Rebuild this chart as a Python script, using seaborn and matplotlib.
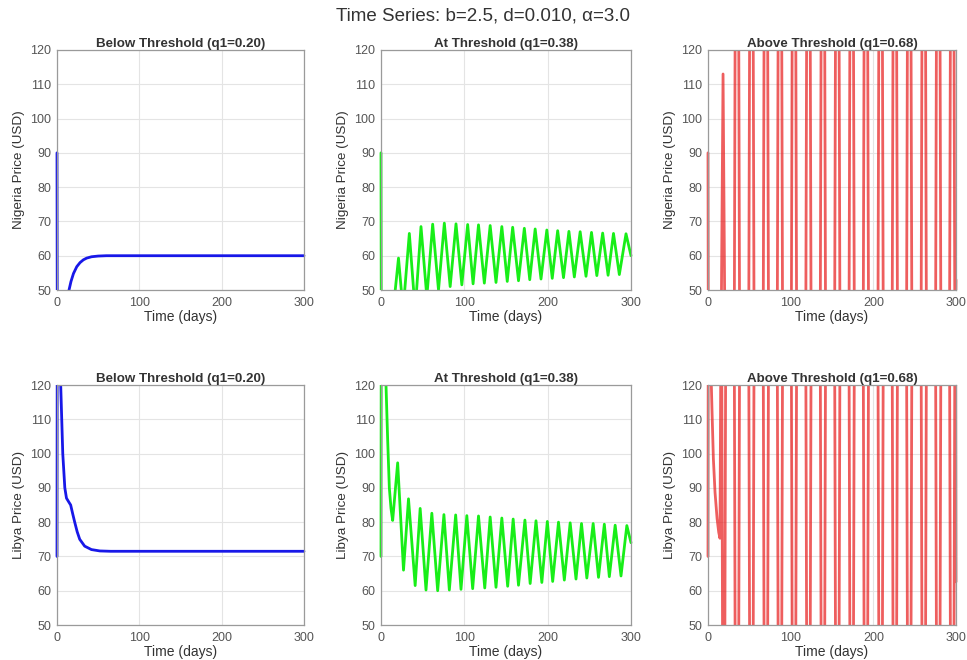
import matplotlib
matplotlib.use("Agg")
import matplotlib.pyplot as plt
from matplotlib.transforms import Bbox, TransformedBbox
import seaborn as sns
import pandas as pd

# ---------------- data ----------------
# Below threshold (q1=0.20)
ng_low_t = [0, 0.4, 13.5, 14.6, 17, 20, 24, 28, 32, 36, 42, 50, 60, 300]
ng_low_v = [90, 30, 45, 50, 52.5, 54.8, 56.8, 58, 58.8, 59.3, 59.7, 59.9, 60, 60]

ly_low_t = [0, 0.3, 4, 4.5, 7, 9.5, 11.5, 14, 16.6, 19, 21.5, 24.5, 27.6, 33.6, 41.8, 52, 65, 300]
ly_low_v = [70, 140, 126, 120, 100, 90, 87, 86, 85, 82.5, 80, 77.2, 75, 73, 72, 71.6, 71.5, 71.5]

# At threshold (q1=0.38)
ng_mid_t = [0, 0.4, 15, 21, 26.5, 34, 41, 48, 55, 62, 69, 76, 83, 90, 97, 104, 110.5, 117,
            124, 131, 138, 145, 151.5, 158, 165, 172, 178.5, 185, 192, 199, 205.5, 212,
            219, 225.5, 232, 239, 246, 252.6, 259, 266, 272.5, 279, 286, 294, 300]
ng_mid_v = [90, 30, 45, 59.3, 44, 66.5, 44, 68.5, 48, 69.2, 50, 69.5, 51, 69.3, 51.5, 69.1, 51.8, 69,
            52, 68.8, 52.2, 68.5, 52.5, 68.3, 52.7, 68, 53, 67.8, 53.2, 67.5, 53.4, 67.3,
            53.6, 67.1, 53.8, 67, 54, 66.8, 54.2, 66.6, 54.3, 66.5, 54.5, 66.4, 60]

ly_mid_t = [0, 0.3, 5, 6, 8, 10, 12, 14, 20, 27, 33, 41, 47, 54, 61, 68, 75.5, 82, 89.6, 96,
            103, 110, 117, 124.5, 131, 138, 145, 152, 158.6, 165, 172.7, 179, 186, 193, 199.6,
            206, 213, 220, 227, 234, 240.6, 247, 254.6, 261, 268, 274, 281, 288, 295, 300]
ly_mid_v = [70, 140, 128, 120, 104, 90, 84, 80.5, 97.3, 66, 86.8, 61.5, 84, 60.2, 82.6, 60, 82.2, 60.2, 82.1, 60.4,
            81.9, 60.6, 81.8, 60.8, 81.5, 61, 81.2, 61.3, 80.9, 61.6, 80.6, 62.1, 80.4, 62.4, 80.2,
            62.7, 80, 63.1, 79.8, 63.4, 79.6, 63.7, 79.6, 63.9, 79.4, 64.1, 79.1, 64.3, 79, 74]

# Above threshold (q1=0.68): one line per spike
ng_high_t = (
    [0, 0.4, 16.0, 18.2, 20.4]
    + [31.8, 33.0, 37.0, 38.2]      # 1
    + [49.3, 50.5, 54.5, 55.7]      # 2
    + [66.8, 68.0, 72.0, 73.2]      # 3
    + [83.8, 85.0, 89.0, 90.2]      # 4
    + [100.8, 102.0, 106.0, 107.2]  # 5
    + [118.3, 119.5, 123.5, 124.7]  # 6
    + [135.8, 137.0, 141.0, 142.2]  # 7
    + [153.2, 154.4, 158.4, 159.6]  # 8
    + [170.6, 171.8, 175.8, 177.0]  # 9
    + [187.8, 189.0, 193.0, 194.2]  # 10
    + [205.6, 206.8, 210.8, 212.0]  # 11
    + [222.8, 224.0, 228.0, 229.2]  # 12
    + [240.2, 241.4, 245.4, 246.6]  # 13
    + [257.8, 259.0, 263.0, 264.2]  # 14
    + [275.3, 276.5, 280.5, 281.7]  # 15
    + [292.2, 293.4, 297.4, 298.6]  # 16
    + [299.6, 300]
)
ng_high_v = (
    [90, 30, 40, 113, 40]
    + [40, 140, 140, 40]  # 1
    + [40, 140, 140, 40]  # 2
    + [40, 140, 140, 40]  # 3
    + [40, 140, 140, 40]  # 4
    + [40, 140, 140, 40]  # 5
    + [40, 140, 140, 40]  # 6
    + [40, 140, 140, 40]  # 7
    + [40, 140, 140, 40]  # 8
    + [40, 140, 140, 40]  # 9
    + [40, 140, 140, 40]  # 10
    + [40, 140, 140, 40]  # 11
    + [40, 140, 140, 40]  # 12
    + [40, 140, 140, 40]  # 13
    + [40, 140, 140, 40]  # 14
    + [40, 140, 140, 40]  # 15
    + [40, 140, 140, 40]  # 16
    + [40, 53]
)

ly_high_t = (
    [0, 0.3, 3.5, 4.8, 6.5, 8.5, 11, 13, 14.5, 15.5, 16.6, 17.8, 20.2, 21.4]
    + [31.8, 33.0, 37.0, 38.2]      # 1
    + [49.3, 50.5, 54.5, 55.7]      # 2
    + [66.8, 68.0, 72.0, 73.2]      # 3
    + [83.8, 85.0, 89.0, 90.2]      # 4
    + [100.8, 102.0, 106.0, 107.2]  # 5
    + [118.3, 119.5, 123.5, 124.7]  # 6
    + [135.8, 137.0, 141.0, 142.2]  # 7
    + [153.2, 154.4, 158.4, 159.6]  # 8
    + [170.6, 171.8, 175.8, 177.0]  # 9
    + [187.8, 189.0, 193.0, 194.2]  # 10
    + [205.6, 206.8, 210.8, 212.0]  # 11
    + [222.8, 224.0, 228.0, 229.2]  # 12
    + [240.2, 241.4, 245.4, 246.6]  # 13
    + [257.8, 259.0, 263.0, 264.2]  # 14
    + [275.3, 276.5, 280.5, 281.7]  # 15
    + [292.2, 293.4, 297.4, 298.6]  # 16
    + [299.6, 300]
)
ly_high_v = (
    [70, 140, 125, 113, 98.5, 88.7, 81, 77, 75.3, 130, 130, 30, 30, 130]
    + [130, 30, 30, 130]  # 1
    + [130, 30, 30, 130]  # 2
    + [130, 30, 30, 130]  # 3
    + [130, 30, 30, 130]  # 4
    + [130, 30, 30, 130]  # 5
    + [130, 30, 30, 130]  # 6
    + [130, 30, 30, 130]  # 7
    + [130, 30, 30, 130]  # 8
    + [130, 30, 30, 130]  # 9
    + [130, 30, 30, 130]  # 10
    + [130, 30, 30, 130]  # 11
    + [130, 30, 30, 130]  # 12
    + [130, 30, 30, 130]  # 13
    + [130, 30, 30, 130]  # 14
    + [130, 30, 30, 130]  # 15
    + [130, 30, 30, 130]  # 16
    + [130, 62.6]
)

titles = ["Below Threshold (q1=0.20)", "At Threshold (q1=0.38)", "Above Threshold (q1=0.68)"]
row_labels = ["Nigeria Price (USD)", "Libya Price (USD)"]
x_ticks = [0, 100, 200, 300]
y_ticks = [50, 60, 70, 80, 90, 100, 110, 120]
suptitle = "Time Series: b=2.5, d=0.010, \u03b1=3.0"

series = [[(ng_low_t, ng_low_v), (ng_mid_t, ng_mid_v), (ng_high_t, ng_high_v)],
          [(ly_low_t, ly_low_v), (ly_mid_t, ly_mid_v), (ly_high_t, ly_high_v)]]
colors = ["#1818e8", "#18ee18", "#e82020"]
lws = [2.0, 2.0, 2.0]
alphas = [1.0, 1.0, 0.72]

# ---------------- plotting ----------------
sns.set_theme(style="whitegrid")
plt.rcParams["font.family"] = ["Liberation Sans", "DejaVu Sans"]

fig = plt.figure(figsize=(9.67, 6.60), dpi=100)

lefts = [57 / 967, 381 / 967, 708 / 967]
widths_ax = [247 / 967, 250 / 967, 248 / 967]
bottoms = [1 - 290 / 660, 1 - 625 / 660]
height = 240 / 660

for r in range(2):
    for c in range(3):
        ax = fig.add_axes([lefts[c], bottoms[r], widths_ax[c], height])
        t, v = series[r][c]
        n = min(len(t), len(v))
        df = pd.DataFrame({"t": t[:n], "v": v[:n]})
        sns.lineplot(data=df, x="t", y="v", ax=ax, color=colors[c], linewidth=lws[c],
                     alpha=alphas[c], sort=False, estimator=None)
        # let the line at t=0 show fully, while still clipping at y limits
        for ln in ax.get_lines():
            ln.set_clip_box(TransformedBbox(Bbox([[-0.012, 0], [1.012, 1]]), ax.transAxes))
        ax.set_xlim(0, 300)
        ax.set_ylim(50, 120)
        ax.set_xticks(x_ticks)
        ax.set_yticks(y_ticks)
        ax.tick_params(axis="both", labelsize=9, colors="#555555", length=0)
        ax.tick_params(axis="x", pad=5)
        ax.tick_params(axis="y", pad=4)
        ax.set_xlabel("Time (days)", fontsize=10, color="#333333", labelpad=1)
        ax.set_ylabel(row_labels[r], fontsize=9.7, color="#333333", labelpad=4)
        ax.set_title(titles[c], fontsize=9.6, fontweight="bold", color="#333333", pad=2)
        ax.grid(True, color="#e4e4e4", linewidth=0.8)
        for s in ax.spines.values():
            s.set_color("#9a9a9a")
            s.set_linewidth(0.9)

fig.text(0.5, 1 - 16 / 660, suptitle, ha="center", va="center", fontsize=13.5, color="#333333")

fig.savefig("out.png", dpi=100)
